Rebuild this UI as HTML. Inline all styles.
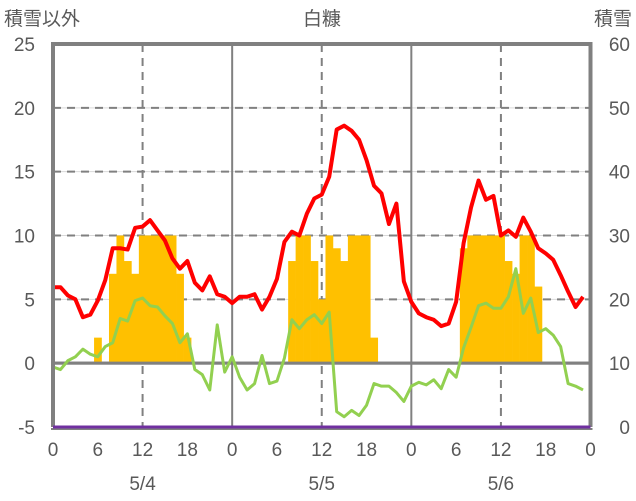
<!DOCTYPE html>
<html><head><meta charset="utf-8"><style>
body{margin:0;background:#fff;}
svg{display:block;font-family:"Liberation Sans","Noto Sans CJK JP",sans-serif;}
</style></head><body>
<svg id="chart" width="636" height="501" viewBox="0 0 636 501" xmlns="http://www.w3.org/2000/svg">
<g id="grid"></g>
<g id="bars"></g>
<g id="lines"></g>
<g id="frame"></g>
<g id="labels"></g>
<text x="4" y="25" font-size="19" fill="#595959">積雪以外</text>
<text x="322" y="25" font-size="19" fill="#595959" text-anchor="middle">白糠</text>
<text x="632" y="25" font-size="19" fill="#595959" text-anchor="end">積雪</text>
</svg>
<script>
const leftTicks=[-5,0,5,10,15,20,25];
const rightTicks=[0,10,20,30,40,50,60];
const hourTicks=["0","6","12","18","0","6","12","18","0","6","12","18","0"];
const dayLabels=["5/4","5/5","5/6"];
const redSeries=[5.95,5.95,5.3,5.0,3.6,3.8,4.9,6.5,9.0,9.0,8.9,10.6,10.7,11.2,10.4,9.6,8.2,7.4,8.0,6.3,5.7,6.8,5.4,5.2,
4.7,5.2,5.2,5.4,4.2,5.2,6.6,9.5,10.3,10.0,11.7,12.9,13.2,14.6,18.3,18.6,18.2,17.5,15.9,13.9,13.3,10.9,12.5,6.4,
4.8,3.9,3.6,3.4,2.9,3.1,4.8,9.4,12.2,14.3,12.8,13.1,10.0,10.4,9.9,11.4,10.3,9.0,8.6,8.1,6.9,5.6,4.4,5.2];
const greenSeries=[-0.3,-0.5,0.2,0.5,1.1,0.7,0.5,1.3,1.6,3.5,3.3,4.9,5.1,4.5,4.4,3.7,3.1,1.6,2.3,-0.5,-0.9,-2.1,3.0,-0.7,
0.5,-1.1,-2.1,-1.6,0.6,-1.6,-1.4,0.4,3.4,2.7,3.4,3.8,3.1,4.0,-3.8,-4.2,-3.7,-4.1,-3.3,-1.6,-1.8,-1.8,-2.3,-3.0,
-1.8,-1.5,-1.7,-1.3,-2.0,-0.5,-1.1,1.2,2.8,4.5,4.7,4.3,4.3,5.2,7.4,3.9,5.1,2.4,2.7,2.2,1.3,-1.6,-1.8,-2.1];
const purpleSeries=[-5,-5,-5,-5,-5,-5,-5,-5,-5,-5,-5,-5,-5,-5,-5,-5,-5,-5,-5,-5,-5,-5,-5,-5,-5,-5,-5,-5,-5,-5,-5,-5,-5,-5,-5,-5,-5,-5,-5,-5,-5,-5,-5,-5,-5,-5,-5,-5,-5,-5,-5,-5,-5,-5,-5,-5,-5,-5,-5,-5,-5,-5,-5,-5,-5,-5,-5,-5,-5,-5,-5,-5];
const snowDepth=[0,0,0,0,0,0,14,0,24,30,26,24,30,30,30,30,30,24,14,0,0,0,0,0,
0,0,0,0,0,0,0,0,26,30,30,26,20,30,28,26,30,30,30,14,0,0,0,0,
0,0,0,0,0,0,0,28,30,30,30,30,30,26,24,30,30,22,0,0,0,0,0,0];

const X0=53,X1=590.5,YT=44,YB=427;
const xs=h=>X0+(X1-X0)*h/72;
const yL=v=>YB-(v+5)/30*(YB-YT);
const yR=v=>YB-v/60*(YB-YT);
const NS="http://www.w3.org/2000/svg";
function mk(tag,parent,attrs){const e=document.createElementNS(NS,tag);for(const k in attrs)e.setAttribute(k,attrs[k]);document.getElementById(parent).appendChild(e);return e;}

// grid
leftTicks.forEach(v=>{
  if(v===-5||v===25)return;
  if(v===0){const l=mk('line','grid',{x1:X0,x2:X1,y1:yL(v),y2:yL(v),stroke:'#808080','stroke-width':3});
    
    return;}
  const a=mk('line','grid',{x1:X0,x2:X1,y1:yL(v),y2:yL(v),stroke:'#d9d9d9','stroke-width':1});
  
  
  const b=mk('line','grid',{x1:X0,x2:X1,y1:yL(v),y2:yL(v),stroke:'#808080','stroke-width':2,'stroke-dasharray':'8,6'});
  
  
});
[24,48].forEach(h=>{const l=mk('line','grid',{x1:xs(h),x2:xs(h),y1:YT,y2:YB,stroke:'#808080','stroke-width':2});
  
  });
[12,36,60].forEach(h=>{const l=mk('line','grid',{x1:xs(h),x2:xs(h),y1:YT,y2:YB,stroke:'#808080','stroke-width':2,'stroke-dasharray':'8,6'});
  
  });

// bars (baseline at left 0 == right 10)
const bw=(X1-X0)/72;
snowDepth.forEach((v,i)=>{
  if(v<=10)return;
  const r=mk('rect','bars',{x:xs(i)-bw/2,width:bw+0.3,y:yR(v),height:yR(10)-yR(v),fill:'#ffc000'});
  
  
});
// redraw zero line over bars
const z=mk('line','bars',{x1:X0,x2:X1,y1:yL(0),y2:yL(0),stroke:'#808080','stroke-width':3});



function line(arr,color,name,w){
  const p=mk('polyline','lines',{points:arr.map((v,i)=>xs(i)+','+yL(v)).join(' '),fill:'none',stroke:color,'stroke-width':w,'stroke-linejoin':'round'});
  
  
}
line(purpleSeries,'#7030a0','purple-series',3);
line(greenSeries,'#92d050','green-series',3);
line(redSeries,'#ff0000','red-series',4);

// frame
const f=mk('path','frame',{d:`M${X0},${YB} L${X0},${YT} L${X1},${YT} L${X1},${YB}`,fill:'none',stroke:'#808080','stroke-width':4});


const fb=mk('line','frame',{x1:X0-2,x2:X1+2,y1:YB+2,y2:YB+2,stroke:'#808080','stroke-width':2});


const pb=mk('line','frame',{x1:X0,x2:X1,y1:YB,y2:YB,stroke:'#7030a0','stroke-width':3});



// labels
leftTicks.forEach(v=>{const t=mk('text','labels',{x:35,y:yL(v)+7,'font-size':19,fill:'#595959','text-anchor':'end'});t.textContent=v;
  
  });
rightTicks.forEach(v=>{const t=mk('text','labels',{x:630,y:yR(v)+7,'font-size':19,fill:'#595959','text-anchor':'end'});t.textContent=v;
  
  });
hourTicks.forEach((s,i)=>{const t=mk('text','labels',{x:xs(i*6),y:456,'font-size':19,fill:'#595959','text-anchor':'middle'});t.textContent=s;
  
  });
dayLabels.forEach((s,i)=>{const t=mk('text','labels',{x:xs(i*24+12),y:490,'font-size':19,fill:'#595959','text-anchor':'middle'});t.textContent=s;
  
  });
</script>
</body></html>
